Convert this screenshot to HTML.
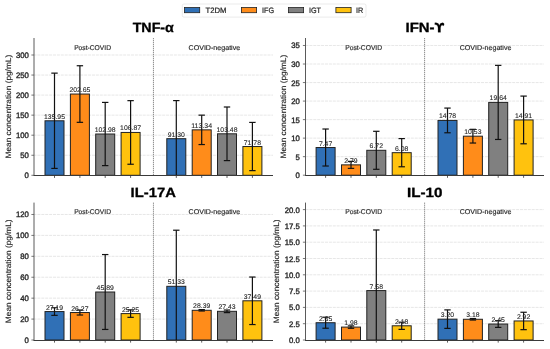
<!DOCTYPE html><html><head><meta charset="utf-8"><style>html,body{margin:0;padding:0;background:#fff;}svg{display:block;will-change:transform;text-rendering:geometricPrecision;font-family:"Liberation Sans", sans-serif;}</style></head><body>
<svg width="550" height="349" viewBox="0 0 550 349">
<rect width="550" height="349" fill="#fff"/>
<line x1="33.50" y1="155.25" x2="273.00" y2="155.25" stroke="#dddddd" stroke-width="0.7" stroke-dasharray="3 0.9"/>
<line x1="33.50" y1="135.20" x2="273.00" y2="135.20" stroke="#dddddd" stroke-width="0.7" stroke-dasharray="3 0.9"/>
<line x1="33.50" y1="115.15" x2="273.00" y2="115.15" stroke="#dddddd" stroke-width="0.7" stroke-dasharray="3 0.9"/>
<line x1="33.50" y1="95.10" x2="273.00" y2="95.10" stroke="#dddddd" stroke-width="0.7" stroke-dasharray="3 0.9"/>
<line x1="33.50" y1="75.05" x2="273.00" y2="75.05" stroke="#dddddd" stroke-width="0.7" stroke-dasharray="3 0.9"/>
<line x1="33.50" y1="55.00" x2="273.00" y2="55.00" stroke="#dddddd" stroke-width="0.7" stroke-dasharray="3 0.9"/>
<line x1="153.45" y1="38.00" x2="153.45" y2="175.30" stroke="#777" stroke-width="0.85" stroke-dasharray="1.3 0.7"/>
<rect x="45.00" y="120.78" width="19.00" height="54.52" fill="#3070B6" stroke="#222222" stroke-width="1.0"/>
<rect x="70.40" y="94.04" width="19.00" height="81.26" fill="#FF8C1A" stroke="#222222" stroke-width="1.0"/>
<rect x="95.70" y="134.01" width="19.00" height="41.29" fill="#808080" stroke="#222222" stroke-width="1.0"/>
<rect x="121.10" y="132.45" width="19.00" height="42.85" fill="#FFC20E" stroke="#222222" stroke-width="1.0"/>
<rect x="166.80" y="138.69" width="19.00" height="36.61" fill="#3070B6" stroke="#222222" stroke-width="1.0"/>
<rect x="192.20" y="129.85" width="19.00" height="45.45" fill="#FF8C1A" stroke="#222222" stroke-width="1.0"/>
<rect x="217.50" y="133.80" width="19.00" height="41.50" fill="#808080" stroke="#222222" stroke-width="1.0"/>
<rect x="242.90" y="146.52" width="19.00" height="28.78" fill="#FFC20E" stroke="#222222" stroke-width="1.0"/>
<line x1="54.50" y1="73.13" x2="54.50" y2="168.43" stroke="#111111" stroke-width="1.2"/>
<line x1="51.30" y1="73.13" x2="57.70" y2="73.13" stroke="#111111" stroke-width="1.2"/>
<line x1="51.30" y1="168.43" x2="57.70" y2="168.43" stroke="#111111" stroke-width="1.2"/>
<line x1="79.90" y1="65.74" x2="79.90" y2="122.34" stroke="#111111" stroke-width="1.2"/>
<line x1="76.70" y1="65.74" x2="83.10" y2="65.74" stroke="#111111" stroke-width="1.2"/>
<line x1="76.70" y1="122.34" x2="83.10" y2="122.34" stroke="#111111" stroke-width="1.2"/>
<line x1="105.20" y1="102.41" x2="105.20" y2="165.61" stroke="#111111" stroke-width="1.2"/>
<line x1="102.00" y1="102.41" x2="108.40" y2="102.41" stroke="#111111" stroke-width="1.2"/>
<line x1="102.00" y1="165.61" x2="108.40" y2="165.61" stroke="#111111" stroke-width="1.2"/>
<line x1="130.60" y1="100.65" x2="130.60" y2="164.25" stroke="#111111" stroke-width="1.2"/>
<line x1="127.40" y1="100.65" x2="133.80" y2="100.65" stroke="#111111" stroke-width="1.2"/>
<line x1="127.40" y1="164.25" x2="133.80" y2="164.25" stroke="#111111" stroke-width="1.2"/>
<line x1="176.30" y1="100.59" x2="176.30" y2="175.30" stroke="#111111" stroke-width="1.2"/>
<line x1="173.10" y1="100.59" x2="179.50" y2="100.59" stroke="#111111" stroke-width="1.2"/>
<line x1="201.70" y1="115.15" x2="201.70" y2="144.55" stroke="#111111" stroke-width="1.2"/>
<line x1="198.50" y1="115.15" x2="204.90" y2="115.15" stroke="#111111" stroke-width="1.2"/>
<line x1="198.50" y1="144.55" x2="204.90" y2="144.55" stroke="#111111" stroke-width="1.2"/>
<line x1="227.00" y1="107.00" x2="227.00" y2="160.60" stroke="#111111" stroke-width="1.2"/>
<line x1="223.80" y1="107.00" x2="230.20" y2="107.00" stroke="#111111" stroke-width="1.2"/>
<line x1="223.80" y1="160.60" x2="230.20" y2="160.60" stroke="#111111" stroke-width="1.2"/>
<line x1="252.40" y1="122.42" x2="252.40" y2="170.62" stroke="#111111" stroke-width="1.2"/>
<line x1="249.20" y1="122.42" x2="255.60" y2="122.42" stroke="#111111" stroke-width="1.2"/>
<line x1="249.20" y1="170.62" x2="255.60" y2="170.62" stroke="#111111" stroke-width="1.2"/>
<text x="54.50" y="118.78" font-size="6.70" text-anchor="middle" fill="#262626" stroke="#262626" stroke-width="0.10" textLength="20.99" lengthAdjust="spacingAndGlyphs">135.95</text>
<text x="79.90" y="92.04" font-size="6.70" text-anchor="middle" fill="#262626" stroke="#262626" stroke-width="0.10" textLength="20.99" lengthAdjust="spacingAndGlyphs">202.65</text>
<text x="105.20" y="132.01" font-size="6.70" text-anchor="middle" fill="#262626" stroke="#262626" stroke-width="0.10" textLength="20.99" lengthAdjust="spacingAndGlyphs">102.98</text>
<text x="130.60" y="130.45" font-size="6.70" text-anchor="middle" fill="#262626" stroke="#262626" stroke-width="0.10" textLength="20.99" lengthAdjust="spacingAndGlyphs">106.87</text>
<text x="176.30" y="136.69" font-size="6.70" text-anchor="middle" fill="#262626" stroke="#262626" stroke-width="0.10" textLength="17.18" lengthAdjust="spacingAndGlyphs">91.30</text>
<text x="201.70" y="127.85" font-size="6.70" text-anchor="middle" fill="#262626" stroke="#262626" stroke-width="0.10" textLength="20.99" lengthAdjust="spacingAndGlyphs">113.34</text>
<text x="227.00" y="131.80" font-size="6.70" text-anchor="middle" fill="#262626" stroke="#262626" stroke-width="0.10" textLength="20.99" lengthAdjust="spacingAndGlyphs">103.48</text>
<text x="252.40" y="144.52" font-size="6.70" text-anchor="middle" fill="#262626" stroke="#262626" stroke-width="0.10" textLength="17.18" lengthAdjust="spacingAndGlyphs">71.78</text>
<line x1="34.00" y1="38.00" x2="34.00" y2="175.50" stroke="#5a5a5a" stroke-width="1.0"/>
<line x1="33.50" y1="175.50" x2="273.00" y2="175.50" stroke="#3a3a3a" stroke-width="1.0"/>
<line x1="31.40" y1="175.30" x2="34.00" y2="175.30" stroke="#555" stroke-width="0.8"/>
<text x="28.90" y="178.30" font-size="7.90" text-anchor="end" fill="#262626" stroke="#262626" stroke-width="0.35" textLength="4.33" lengthAdjust="spacingAndGlyphs">0</text>
<line x1="31.40" y1="155.25" x2="34.00" y2="155.25" stroke="#555" stroke-width="0.8"/>
<text x="28.90" y="158.25" font-size="7.90" text-anchor="end" fill="#262626" stroke="#262626" stroke-width="0.35" textLength="8.65" lengthAdjust="spacingAndGlyphs">50</text>
<line x1="31.40" y1="135.20" x2="34.00" y2="135.20" stroke="#555" stroke-width="0.8"/>
<text x="28.90" y="138.20" font-size="7.90" text-anchor="end" fill="#262626" stroke="#262626" stroke-width="0.35" textLength="12.98" lengthAdjust="spacingAndGlyphs">100</text>
<line x1="31.40" y1="115.15" x2="34.00" y2="115.15" stroke="#555" stroke-width="0.8"/>
<text x="28.90" y="118.15" font-size="7.90" text-anchor="end" fill="#262626" stroke="#262626" stroke-width="0.35" textLength="12.98" lengthAdjust="spacingAndGlyphs">150</text>
<line x1="31.40" y1="95.10" x2="34.00" y2="95.10" stroke="#555" stroke-width="0.8"/>
<text x="28.90" y="98.10" font-size="7.90" text-anchor="end" fill="#262626" stroke="#262626" stroke-width="0.35" textLength="12.98" lengthAdjust="spacingAndGlyphs">200</text>
<line x1="31.40" y1="75.05" x2="34.00" y2="75.05" stroke="#555" stroke-width="0.8"/>
<text x="28.90" y="78.05" font-size="7.90" text-anchor="end" fill="#262626" stroke="#262626" stroke-width="0.35" textLength="12.98" lengthAdjust="spacingAndGlyphs">250</text>
<line x1="31.40" y1="55.00" x2="34.00" y2="55.00" stroke="#555" stroke-width="0.8"/>
<text x="28.90" y="58.00" font-size="7.90" text-anchor="end" fill="#262626" stroke="#262626" stroke-width="0.35" textLength="12.98" lengthAdjust="spacingAndGlyphs">300</text>
<line x1="54.50" y1="175.30" x2="54.50" y2="177.90" stroke="#333" stroke-width="0.8"/>
<line x1="79.90" y1="175.30" x2="79.90" y2="177.90" stroke="#333" stroke-width="0.8"/>
<line x1="105.20" y1="175.30" x2="105.20" y2="177.90" stroke="#333" stroke-width="0.8"/>
<line x1="130.60" y1="175.30" x2="130.60" y2="177.90" stroke="#333" stroke-width="0.8"/>
<line x1="176.30" y1="175.30" x2="176.30" y2="177.90" stroke="#333" stroke-width="0.8"/>
<line x1="201.70" y1="175.30" x2="201.70" y2="177.90" stroke="#333" stroke-width="0.8"/>
<line x1="227.00" y1="175.30" x2="227.00" y2="177.90" stroke="#333" stroke-width="0.8"/>
<line x1="252.40" y1="175.30" x2="252.40" y2="177.90" stroke="#333" stroke-width="0.8"/>
<text x="92.55" y="49.80" font-size="6.96" text-anchor="middle" fill="#262626" stroke="#262626" stroke-width="0.15" textLength="36.85" lengthAdjust="spacingAndGlyphs">Post-COVID</text>
<text x="214.35" y="49.80" font-size="6.96" text-anchor="middle" fill="#262626" stroke="#262626" stroke-width="0.15" textLength="51.69" lengthAdjust="spacingAndGlyphs">COVID-negative</text>
<text x="153.25" y="32.30" font-size="13.30" text-anchor="middle" fill="#000" stroke="#000" stroke-width="0.30" font-weight="bold" textLength="41.25" lengthAdjust="spacingAndGlyphs">TNF-α</text>
<text x="10.90" y="106.65" font-size="7.80" text-anchor="middle" fill="#262626" stroke="#262626" stroke-width="0.15" textLength="103.69" lengthAdjust="spacingAndGlyphs" transform="rotate(-90 10.90 106.65)">Mean concentration (pg/mL)</text>
<line x1="305.50" y1="156.67" x2="544.00" y2="156.67" stroke="#dddddd" stroke-width="0.7" stroke-dasharray="3 0.9"/>
<line x1="305.50" y1="138.14" x2="544.00" y2="138.14" stroke="#dddddd" stroke-width="0.7" stroke-dasharray="3 0.9"/>
<line x1="305.50" y1="119.61" x2="544.00" y2="119.61" stroke="#dddddd" stroke-width="0.7" stroke-dasharray="3 0.9"/>
<line x1="305.50" y1="101.08" x2="544.00" y2="101.08" stroke="#dddddd" stroke-width="0.7" stroke-dasharray="3 0.9"/>
<line x1="305.50" y1="82.55" x2="544.00" y2="82.55" stroke="#dddddd" stroke-width="0.7" stroke-dasharray="3 0.9"/>
<line x1="305.50" y1="64.02" x2="544.00" y2="64.02" stroke="#dddddd" stroke-width="0.7" stroke-dasharray="3 0.9"/>
<line x1="305.50" y1="45.49" x2="544.00" y2="45.49" stroke="#dddddd" stroke-width="0.7" stroke-dasharray="3 0.9"/>
<line x1="424.60" y1="38.00" x2="424.60" y2="175.20" stroke="#777" stroke-width="0.85" stroke-dasharray="1.3 0.7"/>
<rect x="316.10" y="147.52" width="19.00" height="27.68" fill="#3070B6" stroke="#222222" stroke-width="1.0"/>
<rect x="341.50" y="164.86" width="19.00" height="10.34" fill="#FF8C1A" stroke="#222222" stroke-width="1.0"/>
<rect x="366.80" y="150.30" width="19.00" height="24.90" fill="#808080" stroke="#222222" stroke-width="1.0"/>
<rect x="392.20" y="152.67" width="19.00" height="22.53" fill="#FFC20E" stroke="#222222" stroke-width="1.0"/>
<rect x="438.00" y="120.43" width="19.00" height="54.77" fill="#3070B6" stroke="#222222" stroke-width="1.0"/>
<rect x="463.40" y="136.18" width="19.00" height="39.02" fill="#FF8C1A" stroke="#222222" stroke-width="1.0"/>
<rect x="488.70" y="102.41" width="19.00" height="72.79" fill="#808080" stroke="#222222" stroke-width="1.0"/>
<rect x="514.10" y="119.94" width="19.00" height="55.26" fill="#FFC20E" stroke="#222222" stroke-width="1.0"/>
<line x1="325.60" y1="129.02" x2="325.60" y2="166.02" stroke="#111111" stroke-width="1.2"/>
<line x1="322.40" y1="129.02" x2="328.80" y2="129.02" stroke="#111111" stroke-width="1.2"/>
<line x1="322.40" y1="166.02" x2="328.80" y2="166.02" stroke="#111111" stroke-width="1.2"/>
<line x1="351.00" y1="161.36" x2="351.00" y2="168.36" stroke="#111111" stroke-width="1.2"/>
<line x1="347.80" y1="161.36" x2="354.20" y2="161.36" stroke="#111111" stroke-width="1.2"/>
<line x1="347.80" y1="168.36" x2="354.20" y2="168.36" stroke="#111111" stroke-width="1.2"/>
<line x1="376.30" y1="131.30" x2="376.30" y2="169.30" stroke="#111111" stroke-width="1.2"/>
<line x1="373.10" y1="131.30" x2="379.50" y2="131.30" stroke="#111111" stroke-width="1.2"/>
<line x1="373.10" y1="169.30" x2="379.50" y2="169.30" stroke="#111111" stroke-width="1.2"/>
<line x1="401.70" y1="138.57" x2="401.70" y2="166.77" stroke="#111111" stroke-width="1.2"/>
<line x1="398.50" y1="138.57" x2="404.90" y2="138.57" stroke="#111111" stroke-width="1.2"/>
<line x1="398.50" y1="166.77" x2="404.90" y2="166.77" stroke="#111111" stroke-width="1.2"/>
<line x1="447.50" y1="108.08" x2="447.50" y2="132.78" stroke="#111111" stroke-width="1.2"/>
<line x1="444.30" y1="108.08" x2="450.70" y2="108.08" stroke="#111111" stroke-width="1.2"/>
<line x1="444.30" y1="132.78" x2="450.70" y2="132.78" stroke="#111111" stroke-width="1.2"/>
<line x1="472.90" y1="129.33" x2="472.90" y2="143.03" stroke="#111111" stroke-width="1.2"/>
<line x1="469.70" y1="129.33" x2="476.10" y2="129.33" stroke="#111111" stroke-width="1.2"/>
<line x1="469.70" y1="143.03" x2="476.10" y2="143.03" stroke="#111111" stroke-width="1.2"/>
<line x1="498.20" y1="65.36" x2="498.20" y2="139.46" stroke="#111111" stroke-width="1.2"/>
<line x1="495.00" y1="65.36" x2="501.40" y2="65.36" stroke="#111111" stroke-width="1.2"/>
<line x1="495.00" y1="139.46" x2="501.40" y2="139.46" stroke="#111111" stroke-width="1.2"/>
<line x1="523.60" y1="96.09" x2="523.60" y2="143.79" stroke="#111111" stroke-width="1.2"/>
<line x1="520.40" y1="96.09" x2="526.80" y2="96.09" stroke="#111111" stroke-width="1.2"/>
<line x1="520.40" y1="143.79" x2="526.80" y2="143.79" stroke="#111111" stroke-width="1.2"/>
<text x="325.60" y="145.52" font-size="6.70" text-anchor="middle" fill="#262626" stroke="#262626" stroke-width="0.10" textLength="13.36" lengthAdjust="spacingAndGlyphs">7.47</text>
<text x="351.00" y="162.86" font-size="6.70" text-anchor="middle" fill="#262626" stroke="#262626" stroke-width="0.10" textLength="13.36" lengthAdjust="spacingAndGlyphs">2.79</text>
<text x="376.30" y="148.30" font-size="6.70" text-anchor="middle" fill="#262626" stroke="#262626" stroke-width="0.10" textLength="13.36" lengthAdjust="spacingAndGlyphs">6.72</text>
<text x="401.70" y="150.67" font-size="6.70" text-anchor="middle" fill="#262626" stroke="#262626" stroke-width="0.10" textLength="13.36" lengthAdjust="spacingAndGlyphs">6.08</text>
<text x="447.50" y="118.43" font-size="6.70" text-anchor="middle" fill="#262626" stroke="#262626" stroke-width="0.10" textLength="17.18" lengthAdjust="spacingAndGlyphs">14.78</text>
<text x="472.90" y="134.18" font-size="6.70" text-anchor="middle" fill="#262626" stroke="#262626" stroke-width="0.10" textLength="17.18" lengthAdjust="spacingAndGlyphs">10.53</text>
<text x="498.20" y="100.41" font-size="6.70" text-anchor="middle" fill="#262626" stroke="#262626" stroke-width="0.10" textLength="17.18" lengthAdjust="spacingAndGlyphs">19.64</text>
<text x="523.60" y="117.94" font-size="6.70" text-anchor="middle" fill="#262626" stroke="#262626" stroke-width="0.10" textLength="17.18" lengthAdjust="spacingAndGlyphs">14.91</text>
<line x1="305.50" y1="38.00" x2="305.50" y2="175.50" stroke="#5a5a5a" stroke-width="1.0"/>
<line x1="305.00" y1="175.50" x2="544.00" y2="175.50" stroke="#3a3a3a" stroke-width="1.0"/>
<line x1="302.90" y1="175.20" x2="305.50" y2="175.20" stroke="#555" stroke-width="0.8"/>
<text x="299.80" y="178.20" font-size="7.90" text-anchor="end" fill="#262626" stroke="#262626" stroke-width="0.35" textLength="4.33" lengthAdjust="spacingAndGlyphs">0</text>
<line x1="302.90" y1="156.67" x2="305.50" y2="156.67" stroke="#555" stroke-width="0.8"/>
<text x="299.80" y="159.67" font-size="7.90" text-anchor="end" fill="#262626" stroke="#262626" stroke-width="0.35" textLength="4.33" lengthAdjust="spacingAndGlyphs">5</text>
<line x1="302.90" y1="138.14" x2="305.50" y2="138.14" stroke="#555" stroke-width="0.8"/>
<text x="299.80" y="141.14" font-size="7.90" text-anchor="end" fill="#262626" stroke="#262626" stroke-width="0.35" textLength="8.65" lengthAdjust="spacingAndGlyphs">10</text>
<line x1="302.90" y1="119.61" x2="305.50" y2="119.61" stroke="#555" stroke-width="0.8"/>
<text x="299.80" y="122.61" font-size="7.90" text-anchor="end" fill="#262626" stroke="#262626" stroke-width="0.35" textLength="8.65" lengthAdjust="spacingAndGlyphs">15</text>
<line x1="302.90" y1="101.08" x2="305.50" y2="101.08" stroke="#555" stroke-width="0.8"/>
<text x="299.80" y="104.08" font-size="7.90" text-anchor="end" fill="#262626" stroke="#262626" stroke-width="0.35" textLength="8.65" lengthAdjust="spacingAndGlyphs">20</text>
<line x1="302.90" y1="82.55" x2="305.50" y2="82.55" stroke="#555" stroke-width="0.8"/>
<text x="299.80" y="85.55" font-size="7.90" text-anchor="end" fill="#262626" stroke="#262626" stroke-width="0.35" textLength="8.65" lengthAdjust="spacingAndGlyphs">25</text>
<line x1="302.90" y1="64.02" x2="305.50" y2="64.02" stroke="#555" stroke-width="0.8"/>
<text x="299.80" y="67.02" font-size="7.90" text-anchor="end" fill="#262626" stroke="#262626" stroke-width="0.35" textLength="8.65" lengthAdjust="spacingAndGlyphs">30</text>
<line x1="302.90" y1="45.49" x2="305.50" y2="45.49" stroke="#555" stroke-width="0.8"/>
<text x="299.80" y="48.49" font-size="7.90" text-anchor="end" fill="#262626" stroke="#262626" stroke-width="0.35" textLength="8.65" lengthAdjust="spacingAndGlyphs">35</text>
<line x1="325.60" y1="175.20" x2="325.60" y2="177.80" stroke="#333" stroke-width="0.8"/>
<line x1="351.00" y1="175.20" x2="351.00" y2="177.80" stroke="#333" stroke-width="0.8"/>
<line x1="376.30" y1="175.20" x2="376.30" y2="177.80" stroke="#333" stroke-width="0.8"/>
<line x1="401.70" y1="175.20" x2="401.70" y2="177.80" stroke="#333" stroke-width="0.8"/>
<line x1="447.50" y1="175.20" x2="447.50" y2="177.80" stroke="#333" stroke-width="0.8"/>
<line x1="472.90" y1="175.20" x2="472.90" y2="177.80" stroke="#333" stroke-width="0.8"/>
<line x1="498.20" y1="175.20" x2="498.20" y2="177.80" stroke="#333" stroke-width="0.8"/>
<line x1="523.60" y1="175.20" x2="523.60" y2="177.80" stroke="#333" stroke-width="0.8"/>
<text x="363.65" y="49.80" font-size="6.96" text-anchor="middle" fill="#262626" stroke="#262626" stroke-width="0.15" textLength="36.85" lengthAdjust="spacingAndGlyphs">Post-COVID</text>
<text x="485.55" y="49.80" font-size="6.96" text-anchor="middle" fill="#262626" stroke="#262626" stroke-width="0.15" textLength="51.69" lengthAdjust="spacingAndGlyphs">COVID-negative</text>
<text x="405.52" y="32.30" font-size="13.30" text-anchor="start" fill="#000" stroke="#000" stroke-width="0.30" font-weight="bold" textLength="29.07" lengthAdjust="spacingAndGlyphs">IFN-</text>
<path transform="translate(434.58 32.30) scale(0.00635 -0.00635)" fill="#000" stroke="#000" stroke-width="40" d="M1218 1178Q1037 1106 976 903Q934 762 934 597V0H549V597Q549 717 507 903Q464 1094 278 1178Q162 1230 42 1204V1493Q99 1511 269 1490Q674 1442 741 1061Q828 1434 1227 1490Q1342 1506 1402 1457Q1578 1314 1468 1105Q1426 1023 1318 1045Q1232 1063 1218 1178Z"/>
<text x="286.40" y="106.60" font-size="7.80" text-anchor="middle" fill="#262626" stroke="#262626" stroke-width="0.15" textLength="103.69" lengthAdjust="spacingAndGlyphs" transform="rotate(-90 286.40 106.60)">Mean concentration (pg/mL)</text>
<line x1="33.50" y1="319.08" x2="273.00" y2="319.08" stroke="#dddddd" stroke-width="0.7" stroke-dasharray="3 0.9"/>
<line x1="33.50" y1="298.16" x2="273.00" y2="298.16" stroke="#dddddd" stroke-width="0.7" stroke-dasharray="3 0.9"/>
<line x1="33.50" y1="277.24" x2="273.00" y2="277.24" stroke="#dddddd" stroke-width="0.7" stroke-dasharray="3 0.9"/>
<line x1="33.50" y1="256.32" x2="273.00" y2="256.32" stroke="#dddddd" stroke-width="0.7" stroke-dasharray="3 0.9"/>
<line x1="33.50" y1="235.40" x2="273.00" y2="235.40" stroke="#dddddd" stroke-width="0.7" stroke-dasharray="3 0.9"/>
<line x1="33.50" y1="214.48" x2="273.00" y2="214.48" stroke="#dddddd" stroke-width="0.7" stroke-dasharray="3 0.9"/>
<line x1="153.45" y1="202.60" x2="153.45" y2="340.00" stroke="#777" stroke-width="0.85" stroke-dasharray="1.3 0.7"/>
<rect x="45.00" y="311.56" width="19.00" height="28.44" fill="#3070B6" stroke="#222222" stroke-width="1.0"/>
<rect x="70.40" y="312.52" width="19.00" height="27.48" fill="#FF8C1A" stroke="#222222" stroke-width="1.0"/>
<rect x="95.70" y="292.00" width="19.00" height="48.00" fill="#808080" stroke="#222222" stroke-width="1.0"/>
<rect x="121.10" y="313.59" width="19.00" height="26.41" fill="#FFC20E" stroke="#222222" stroke-width="1.0"/>
<rect x="166.80" y="286.31" width="19.00" height="53.69" fill="#3070B6" stroke="#222222" stroke-width="1.0"/>
<rect x="192.20" y="310.30" width="19.00" height="29.70" fill="#FF8C1A" stroke="#222222" stroke-width="1.0"/>
<rect x="217.50" y="311.31" width="19.00" height="28.69" fill="#808080" stroke="#222222" stroke-width="1.0"/>
<rect x="242.90" y="300.79" width="19.00" height="39.21" fill="#FFC20E" stroke="#222222" stroke-width="1.0"/>
<line x1="54.50" y1="307.76" x2="54.50" y2="315.36" stroke="#111111" stroke-width="1.2"/>
<line x1="51.30" y1="307.76" x2="57.70" y2="307.76" stroke="#111111" stroke-width="1.2"/>
<line x1="51.30" y1="315.36" x2="57.70" y2="315.36" stroke="#111111" stroke-width="1.2"/>
<line x1="79.90" y1="310.02" x2="79.90" y2="315.02" stroke="#111111" stroke-width="1.2"/>
<line x1="76.70" y1="310.02" x2="83.10" y2="310.02" stroke="#111111" stroke-width="1.2"/>
<line x1="76.70" y1="315.02" x2="83.10" y2="315.02" stroke="#111111" stroke-width="1.2"/>
<line x1="105.20" y1="254.55" x2="105.20" y2="329.45" stroke="#111111" stroke-width="1.2"/>
<line x1="102.00" y1="254.55" x2="108.40" y2="254.55" stroke="#111111" stroke-width="1.2"/>
<line x1="102.00" y1="329.45" x2="108.40" y2="329.45" stroke="#111111" stroke-width="1.2"/>
<line x1="130.60" y1="309.84" x2="130.60" y2="317.34" stroke="#111111" stroke-width="1.2"/>
<line x1="127.40" y1="309.84" x2="133.80" y2="309.84" stroke="#111111" stroke-width="1.2"/>
<line x1="127.40" y1="317.34" x2="133.80" y2="317.34" stroke="#111111" stroke-width="1.2"/>
<line x1="176.30" y1="230.21" x2="176.30" y2="340.00" stroke="#111111" stroke-width="1.2"/>
<line x1="173.10" y1="230.21" x2="179.50" y2="230.21" stroke="#111111" stroke-width="1.2"/>
<line x1="201.70" y1="309.60" x2="201.70" y2="311.00" stroke="#111111" stroke-width="1.2"/>
<line x1="198.50" y1="309.60" x2="204.90" y2="309.60" stroke="#111111" stroke-width="1.2"/>
<line x1="198.50" y1="311.00" x2="204.90" y2="311.00" stroke="#111111" stroke-width="1.2"/>
<line x1="227.00" y1="310.01" x2="227.00" y2="312.61" stroke="#111111" stroke-width="1.2"/>
<line x1="223.80" y1="310.01" x2="230.20" y2="310.01" stroke="#111111" stroke-width="1.2"/>
<line x1="223.80" y1="312.61" x2="230.20" y2="312.61" stroke="#111111" stroke-width="1.2"/>
<line x1="252.40" y1="277.04" x2="252.40" y2="324.54" stroke="#111111" stroke-width="1.2"/>
<line x1="249.20" y1="277.04" x2="255.60" y2="277.04" stroke="#111111" stroke-width="1.2"/>
<line x1="249.20" y1="324.54" x2="255.60" y2="324.54" stroke="#111111" stroke-width="1.2"/>
<text x="54.50" y="309.56" font-size="6.70" text-anchor="middle" fill="#262626" stroke="#262626" stroke-width="0.10" textLength="17.18" lengthAdjust="spacingAndGlyphs">27.19</text>
<text x="79.90" y="310.52" font-size="6.70" text-anchor="middle" fill="#262626" stroke="#262626" stroke-width="0.10" textLength="17.18" lengthAdjust="spacingAndGlyphs">26.27</text>
<text x="105.20" y="290.00" font-size="6.70" text-anchor="middle" fill="#262626" stroke="#262626" stroke-width="0.10" textLength="17.18" lengthAdjust="spacingAndGlyphs">45.89</text>
<text x="130.60" y="311.59" font-size="6.70" text-anchor="middle" fill="#262626" stroke="#262626" stroke-width="0.10" textLength="17.18" lengthAdjust="spacingAndGlyphs">25.25</text>
<text x="176.30" y="284.31" font-size="6.70" text-anchor="middle" fill="#262626" stroke="#262626" stroke-width="0.10" textLength="17.18" lengthAdjust="spacingAndGlyphs">51.33</text>
<text x="201.70" y="308.30" font-size="6.70" text-anchor="middle" fill="#262626" stroke="#262626" stroke-width="0.10" textLength="17.18" lengthAdjust="spacingAndGlyphs">28.39</text>
<text x="227.00" y="309.31" font-size="6.70" text-anchor="middle" fill="#262626" stroke="#262626" stroke-width="0.10" textLength="17.18" lengthAdjust="spacingAndGlyphs">27.43</text>
<text x="252.40" y="298.79" font-size="6.70" text-anchor="middle" fill="#262626" stroke="#262626" stroke-width="0.10" textLength="17.18" lengthAdjust="spacingAndGlyphs">37.49</text>
<line x1="34.00" y1="202.60" x2="34.00" y2="340.50" stroke="#5a5a5a" stroke-width="1.0"/>
<line x1="33.50" y1="340.50" x2="273.00" y2="340.50" stroke="#3a3a3a" stroke-width="1.0"/>
<line x1="31.40" y1="340.00" x2="34.00" y2="340.00" stroke="#555" stroke-width="0.8"/>
<text x="28.90" y="343.00" font-size="7.90" text-anchor="end" fill="#262626" stroke="#262626" stroke-width="0.35" textLength="4.33" lengthAdjust="spacingAndGlyphs">0</text>
<line x1="31.40" y1="319.08" x2="34.00" y2="319.08" stroke="#555" stroke-width="0.8"/>
<text x="28.90" y="322.08" font-size="7.90" text-anchor="end" fill="#262626" stroke="#262626" stroke-width="0.35" textLength="8.65" lengthAdjust="spacingAndGlyphs">20</text>
<line x1="31.40" y1="298.16" x2="34.00" y2="298.16" stroke="#555" stroke-width="0.8"/>
<text x="28.90" y="301.16" font-size="7.90" text-anchor="end" fill="#262626" stroke="#262626" stroke-width="0.35" textLength="8.65" lengthAdjust="spacingAndGlyphs">40</text>
<line x1="31.40" y1="277.24" x2="34.00" y2="277.24" stroke="#555" stroke-width="0.8"/>
<text x="28.90" y="280.24" font-size="7.90" text-anchor="end" fill="#262626" stroke="#262626" stroke-width="0.35" textLength="8.65" lengthAdjust="spacingAndGlyphs">60</text>
<line x1="31.40" y1="256.32" x2="34.00" y2="256.32" stroke="#555" stroke-width="0.8"/>
<text x="28.90" y="259.32" font-size="7.90" text-anchor="end" fill="#262626" stroke="#262626" stroke-width="0.35" textLength="8.65" lengthAdjust="spacingAndGlyphs">80</text>
<line x1="31.40" y1="235.40" x2="34.00" y2="235.40" stroke="#555" stroke-width="0.8"/>
<text x="28.90" y="238.40" font-size="7.90" text-anchor="end" fill="#262626" stroke="#262626" stroke-width="0.35" textLength="12.98" lengthAdjust="spacingAndGlyphs">100</text>
<line x1="31.40" y1="214.48" x2="34.00" y2="214.48" stroke="#555" stroke-width="0.8"/>
<text x="28.90" y="217.48" font-size="7.90" text-anchor="end" fill="#262626" stroke="#262626" stroke-width="0.35" textLength="12.98" lengthAdjust="spacingAndGlyphs">120</text>
<line x1="54.50" y1="340.00" x2="54.50" y2="342.60" stroke="#333" stroke-width="0.8"/>
<line x1="79.90" y1="340.00" x2="79.90" y2="342.60" stroke="#333" stroke-width="0.8"/>
<line x1="105.20" y1="340.00" x2="105.20" y2="342.60" stroke="#333" stroke-width="0.8"/>
<line x1="130.60" y1="340.00" x2="130.60" y2="342.60" stroke="#333" stroke-width="0.8"/>
<line x1="176.30" y1="340.00" x2="176.30" y2="342.60" stroke="#333" stroke-width="0.8"/>
<line x1="201.70" y1="340.00" x2="201.70" y2="342.60" stroke="#333" stroke-width="0.8"/>
<line x1="227.00" y1="340.00" x2="227.00" y2="342.60" stroke="#333" stroke-width="0.8"/>
<line x1="252.40" y1="340.00" x2="252.40" y2="342.60" stroke="#333" stroke-width="0.8"/>
<text x="92.55" y="214.40" font-size="6.96" text-anchor="middle" fill="#262626" stroke="#262626" stroke-width="0.15" textLength="36.85" lengthAdjust="spacingAndGlyphs">Post-COVID</text>
<text x="214.35" y="214.40" font-size="6.96" text-anchor="middle" fill="#262626" stroke="#262626" stroke-width="0.15" textLength="51.69" lengthAdjust="spacingAndGlyphs">COVID-negative</text>
<text x="153.25" y="197.30" font-size="13.30" text-anchor="middle" fill="#000" stroke="#000" stroke-width="0.30" font-weight="bold" textLength="45.23" lengthAdjust="spacingAndGlyphs">IL-17A</text>
<text x="10.90" y="271.30" font-size="7.80" text-anchor="middle" fill="#262626" stroke="#262626" stroke-width="0.15" textLength="103.69" lengthAdjust="spacingAndGlyphs" transform="rotate(-90 10.90 271.30)">Mean concentration (pg/mL)</text>
<line x1="305.50" y1="323.70" x2="544.00" y2="323.70" stroke="#dddddd" stroke-width="0.7" stroke-dasharray="3 0.9"/>
<line x1="305.50" y1="307.40" x2="544.00" y2="307.40" stroke="#dddddd" stroke-width="0.7" stroke-dasharray="3 0.9"/>
<line x1="305.50" y1="291.10" x2="544.00" y2="291.10" stroke="#dddddd" stroke-width="0.7" stroke-dasharray="3 0.9"/>
<line x1="305.50" y1="274.80" x2="544.00" y2="274.80" stroke="#dddddd" stroke-width="0.7" stroke-dasharray="3 0.9"/>
<line x1="305.50" y1="258.50" x2="544.00" y2="258.50" stroke="#dddddd" stroke-width="0.7" stroke-dasharray="3 0.9"/>
<line x1="305.50" y1="242.20" x2="544.00" y2="242.20" stroke="#dddddd" stroke-width="0.7" stroke-dasharray="3 0.9"/>
<line x1="305.50" y1="225.90" x2="544.00" y2="225.90" stroke="#dddddd" stroke-width="0.7" stroke-dasharray="3 0.9"/>
<line x1="305.50" y1="209.60" x2="544.00" y2="209.60" stroke="#dddddd" stroke-width="0.7" stroke-dasharray="3 0.9"/>
<line x1="424.60" y1="202.60" x2="424.60" y2="340.00" stroke="#777" stroke-width="0.85" stroke-dasharray="1.3 0.7"/>
<rect x="316.10" y="322.72" width="19.00" height="17.28" fill="#3070B6" stroke="#222222" stroke-width="1.0"/>
<rect x="341.50" y="327.09" width="19.00" height="12.91" fill="#FF8C1A" stroke="#222222" stroke-width="1.0"/>
<rect x="366.80" y="290.58" width="19.00" height="49.42" fill="#808080" stroke="#222222" stroke-width="1.0"/>
<rect x="392.20" y="325.79" width="19.00" height="14.21" fill="#FFC20E" stroke="#222222" stroke-width="1.0"/>
<rect x="438.00" y="319.14" width="19.00" height="20.86" fill="#3070B6" stroke="#222222" stroke-width="1.0"/>
<rect x="463.40" y="319.27" width="19.00" height="20.73" fill="#FF8C1A" stroke="#222222" stroke-width="1.0"/>
<rect x="488.70" y="324.03" width="19.00" height="15.97" fill="#808080" stroke="#222222" stroke-width="1.0"/>
<rect x="514.10" y="320.96" width="19.00" height="19.04" fill="#FFC20E" stroke="#222222" stroke-width="1.0"/>
<line x1="325.60" y1="317.22" x2="325.60" y2="328.22" stroke="#111111" stroke-width="1.2"/>
<line x1="322.40" y1="317.22" x2="328.80" y2="317.22" stroke="#111111" stroke-width="1.2"/>
<line x1="322.40" y1="328.22" x2="328.80" y2="328.22" stroke="#111111" stroke-width="1.2"/>
<line x1="351.00" y1="325.89" x2="351.00" y2="328.29" stroke="#111111" stroke-width="1.2"/>
<line x1="347.80" y1="325.89" x2="354.20" y2="325.89" stroke="#111111" stroke-width="1.2"/>
<line x1="347.80" y1="328.29" x2="354.20" y2="328.29" stroke="#111111" stroke-width="1.2"/>
<line x1="376.30" y1="229.98" x2="376.30" y2="340.00" stroke="#111111" stroke-width="1.2"/>
<line x1="373.10" y1="229.98" x2="379.50" y2="229.98" stroke="#111111" stroke-width="1.2"/>
<line x1="401.70" y1="322.19" x2="401.70" y2="329.39" stroke="#111111" stroke-width="1.2"/>
<line x1="398.50" y1="322.19" x2="404.90" y2="322.19" stroke="#111111" stroke-width="1.2"/>
<line x1="398.50" y1="329.39" x2="404.90" y2="329.39" stroke="#111111" stroke-width="1.2"/>
<line x1="447.50" y1="309.89" x2="447.50" y2="328.39" stroke="#111111" stroke-width="1.2"/>
<line x1="444.30" y1="309.89" x2="450.70" y2="309.89" stroke="#111111" stroke-width="1.2"/>
<line x1="444.30" y1="328.39" x2="450.70" y2="328.39" stroke="#111111" stroke-width="1.2"/>
<line x1="472.90" y1="318.52" x2="472.90" y2="320.02" stroke="#111111" stroke-width="1.2"/>
<line x1="469.70" y1="318.52" x2="476.10" y2="318.52" stroke="#111111" stroke-width="1.2"/>
<line x1="469.70" y1="320.02" x2="476.10" y2="320.02" stroke="#111111" stroke-width="1.2"/>
<line x1="498.20" y1="320.68" x2="498.20" y2="327.38" stroke="#111111" stroke-width="1.2"/>
<line x1="495.00" y1="320.68" x2="501.40" y2="320.68" stroke="#111111" stroke-width="1.2"/>
<line x1="495.00" y1="327.38" x2="501.40" y2="327.38" stroke="#111111" stroke-width="1.2"/>
<line x1="523.60" y1="312.26" x2="523.60" y2="329.66" stroke="#111111" stroke-width="1.2"/>
<line x1="520.40" y1="312.26" x2="526.80" y2="312.26" stroke="#111111" stroke-width="1.2"/>
<line x1="520.40" y1="329.66" x2="526.80" y2="329.66" stroke="#111111" stroke-width="1.2"/>
<text x="325.60" y="320.72" font-size="6.70" text-anchor="middle" fill="#262626" stroke="#262626" stroke-width="0.10" textLength="13.36" lengthAdjust="spacingAndGlyphs">2.65</text>
<text x="351.00" y="325.09" font-size="6.70" text-anchor="middle" fill="#262626" stroke="#262626" stroke-width="0.10" textLength="13.36" lengthAdjust="spacingAndGlyphs">1.98</text>
<text x="376.30" y="288.58" font-size="6.70" text-anchor="middle" fill="#262626" stroke="#262626" stroke-width="0.10" textLength="13.36" lengthAdjust="spacingAndGlyphs">7.58</text>
<text x="401.70" y="323.79" font-size="6.70" text-anchor="middle" fill="#262626" stroke="#262626" stroke-width="0.10" textLength="13.36" lengthAdjust="spacingAndGlyphs">2.18</text>
<text x="447.50" y="317.14" font-size="6.70" text-anchor="middle" fill="#262626" stroke="#262626" stroke-width="0.10" textLength="13.36" lengthAdjust="spacingAndGlyphs">3.20</text>
<text x="472.90" y="317.27" font-size="6.70" text-anchor="middle" fill="#262626" stroke="#262626" stroke-width="0.10" textLength="13.36" lengthAdjust="spacingAndGlyphs">3.18</text>
<text x="498.20" y="322.03" font-size="6.70" text-anchor="middle" fill="#262626" stroke="#262626" stroke-width="0.10" textLength="13.36" lengthAdjust="spacingAndGlyphs">2.45</text>
<text x="523.60" y="318.96" font-size="6.70" text-anchor="middle" fill="#262626" stroke="#262626" stroke-width="0.10" textLength="13.36" lengthAdjust="spacingAndGlyphs">2.92</text>
<line x1="305.50" y1="202.60" x2="305.50" y2="340.50" stroke="#5a5a5a" stroke-width="1.0"/>
<line x1="305.00" y1="340.50" x2="544.00" y2="340.50" stroke="#3a3a3a" stroke-width="1.0"/>
<line x1="302.90" y1="340.00" x2="305.50" y2="340.00" stroke="#555" stroke-width="0.8"/>
<text x="299.80" y="343.00" font-size="7.90" text-anchor="end" fill="#262626" stroke="#262626" stroke-width="0.35" textLength="10.81" lengthAdjust="spacingAndGlyphs">0.0</text>
<line x1="302.90" y1="323.70" x2="305.50" y2="323.70" stroke="#555" stroke-width="0.8"/>
<text x="299.80" y="326.70" font-size="7.90" text-anchor="end" fill="#262626" stroke="#262626" stroke-width="0.35" textLength="10.81" lengthAdjust="spacingAndGlyphs">2.5</text>
<line x1="302.90" y1="307.40" x2="305.50" y2="307.40" stroke="#555" stroke-width="0.8"/>
<text x="299.80" y="310.40" font-size="7.90" text-anchor="end" fill="#262626" stroke="#262626" stroke-width="0.35" textLength="10.81" lengthAdjust="spacingAndGlyphs">5.0</text>
<line x1="302.90" y1="291.10" x2="305.50" y2="291.10" stroke="#555" stroke-width="0.8"/>
<text x="299.80" y="294.10" font-size="7.90" text-anchor="end" fill="#262626" stroke="#262626" stroke-width="0.35" textLength="10.81" lengthAdjust="spacingAndGlyphs">7.5</text>
<line x1="302.90" y1="274.80" x2="305.50" y2="274.80" stroke="#555" stroke-width="0.8"/>
<text x="299.80" y="277.80" font-size="7.90" text-anchor="end" fill="#262626" stroke="#262626" stroke-width="0.35" textLength="15.14" lengthAdjust="spacingAndGlyphs">10.0</text>
<line x1="302.90" y1="258.50" x2="305.50" y2="258.50" stroke="#555" stroke-width="0.8"/>
<text x="299.80" y="261.50" font-size="7.90" text-anchor="end" fill="#262626" stroke="#262626" stroke-width="0.35" textLength="15.14" lengthAdjust="spacingAndGlyphs">12.5</text>
<line x1="302.90" y1="242.20" x2="305.50" y2="242.20" stroke="#555" stroke-width="0.8"/>
<text x="299.80" y="245.20" font-size="7.90" text-anchor="end" fill="#262626" stroke="#262626" stroke-width="0.35" textLength="15.14" lengthAdjust="spacingAndGlyphs">15.0</text>
<line x1="302.90" y1="225.90" x2="305.50" y2="225.90" stroke="#555" stroke-width="0.8"/>
<text x="299.80" y="228.90" font-size="7.90" text-anchor="end" fill="#262626" stroke="#262626" stroke-width="0.35" textLength="15.14" lengthAdjust="spacingAndGlyphs">17.5</text>
<line x1="302.90" y1="209.60" x2="305.50" y2="209.60" stroke="#555" stroke-width="0.8"/>
<text x="299.80" y="212.60" font-size="7.90" text-anchor="end" fill="#262626" stroke="#262626" stroke-width="0.35" textLength="15.14" lengthAdjust="spacingAndGlyphs">20.0</text>
<line x1="325.60" y1="340.00" x2="325.60" y2="342.60" stroke="#333" stroke-width="0.8"/>
<line x1="351.00" y1="340.00" x2="351.00" y2="342.60" stroke="#333" stroke-width="0.8"/>
<line x1="376.30" y1="340.00" x2="376.30" y2="342.60" stroke="#333" stroke-width="0.8"/>
<line x1="401.70" y1="340.00" x2="401.70" y2="342.60" stroke="#333" stroke-width="0.8"/>
<line x1="447.50" y1="340.00" x2="447.50" y2="342.60" stroke="#333" stroke-width="0.8"/>
<line x1="472.90" y1="340.00" x2="472.90" y2="342.60" stroke="#333" stroke-width="0.8"/>
<line x1="498.20" y1="340.00" x2="498.20" y2="342.60" stroke="#333" stroke-width="0.8"/>
<line x1="523.60" y1="340.00" x2="523.60" y2="342.60" stroke="#333" stroke-width="0.8"/>
<text x="363.65" y="214.40" font-size="6.96" text-anchor="middle" fill="#262626" stroke="#262626" stroke-width="0.15" textLength="36.85" lengthAdjust="spacingAndGlyphs">Post-COVID</text>
<text x="485.55" y="214.40" font-size="6.96" text-anchor="middle" fill="#262626" stroke="#262626" stroke-width="0.15" textLength="51.69" lengthAdjust="spacingAndGlyphs">COVID-negative</text>
<text x="424.75" y="197.30" font-size="13.30" text-anchor="middle" fill="#000" stroke="#000" stroke-width="0.30" font-weight="bold" textLength="35.48" lengthAdjust="spacingAndGlyphs">IL-10</text>
<text x="279.40" y="271.30" font-size="7.80" text-anchor="middle" fill="#262626" stroke="#262626" stroke-width="0.15" textLength="103.69" lengthAdjust="spacingAndGlyphs" transform="rotate(-90 279.40 271.30)">Mean concentration (pg/mL)</text>
<rect x="182.3" y="4.0" width="183.7" height="13.1" rx="1.6" fill="#fff" stroke="#dedede" stroke-width="0.6"/>
<rect x="184.50" y="7.5" width="15.2" height="5.2" fill="#3070B6" stroke="#222222" stroke-width="0.8"/>
<text x="205.50" y="12.70" font-size="7.81" text-anchor="start" fill="#262626" stroke="#262626" stroke-width="0.22" textLength="21.02" lengthAdjust="spacingAndGlyphs">T2DM</text>
<rect x="241.40" y="7.5" width="15.2" height="5.2" fill="#FF8C1A" stroke="#222222" stroke-width="0.8"/>
<text x="262.00" y="12.70" font-size="7.81" text-anchor="start" fill="#262626" stroke="#262626" stroke-width="0.22" textLength="12.01" lengthAdjust="spacingAndGlyphs">IFG</text>
<rect x="288.40" y="7.5" width="15.2" height="5.2" fill="#808080" stroke="#222222" stroke-width="0.8"/>
<text x="309.00" y="12.70" font-size="7.81" text-anchor="start" fill="#262626" stroke="#262626" stroke-width="0.22" textLength="12.01" lengthAdjust="spacingAndGlyphs">IGT</text>
<rect x="335.90" y="7.5" width="15.2" height="5.2" fill="#FFC20E" stroke="#222222" stroke-width="0.8"/>
<text x="356.00" y="12.70" font-size="7.81" text-anchor="start" fill="#262626" stroke="#262626" stroke-width="0.22" textLength="7.23" lengthAdjust="spacingAndGlyphs">IR</text>
</svg></body></html>
